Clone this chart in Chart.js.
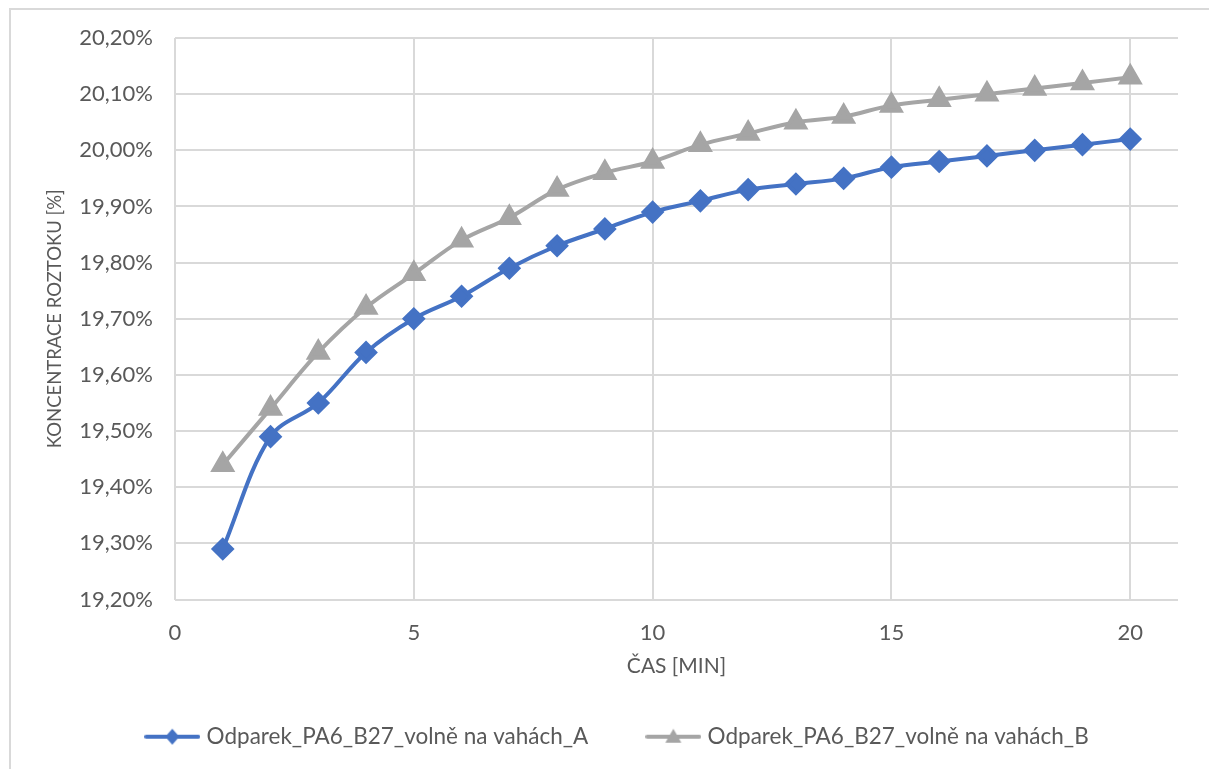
<!DOCTYPE html>
<html>
<head>
<meta charset="utf-8">
<script src="https://cdn.jsdelivr.net/npm/chart.js@4"></script>
<style>
  html, body { margin: 0; padding: 0; background: #fff; }
  #wrap { width: 1209px; height: 769px; }
</style>
</head>
<body>
<div id="wrap"><canvas id="chart" width="1209" height="769"></canvas></div>
<script>
// -------- Datos --------
const minutes = [1, 2, 3, 4, 5, 6, 7, 8, 9, 10, 11, 12, 13, 14, 15, 16, 17, 18, 19, 20];
const seriesA = [19.29, 19.49, 19.55, 19.64, 19.70, 19.74, 19.79, 19.83, 19.86, 19.89,
                 19.91, 19.93, 19.94, 19.95, 19.97, 19.98, 19.99, 20.00, 20.01, 20.02];
const seriesB = [19.44, 19.54, 19.64, 19.72, 19.78, 19.84, 19.88, 19.93, 19.96, 19.98,
                 20.01, 20.03, 20.05, 20.06, 20.08, 20.09, 20.10, 20.11, 20.12, 20.13];
const labelA = "Odparek_PA6_B27_volně na vahách_A";
const labelB = "Odparek_PA6_B27_volně na vahách_B";
const xTicks = [0, 5, 10, 15, 20];
const yTitle = "KONCENTRACE ROZTOKU [%]";
const xTitle = "ČAS [MIN]";

const BLUE = "#4472C4";
const GREY = "#A5A5A5";
const GRID = "#D9D9D9";
const TEXT = "#595959";
const FONT = "Lato, 'Open Sans', sans-serif";

// -------- Iconos de leyenda (línea + marcador) --------
function legendIcon(color, style) {
  const c = document.createElement("canvas");
  c.width = 56; c.height = 20;
  const g = c.getContext("2d");
  g.strokeStyle = color; g.lineWidth = 4; g.lineCap = "round";
  g.beginPath(); g.moveTo(2, 10); g.lineTo(54, 10); g.stroke();
  g.fillStyle = color;
  g.beginPath();
  if (style === "diamond") {
    g.moveTo(28, 2); g.lineTo(35, 10); g.lineTo(28, 18); g.lineTo(21, 10);
  } else {
    g.moveTo(28, 2); g.lineTo(36, 16); g.lineTo(20, 16);
  }
  g.closePath(); g.fill();
  return c;
}
const iconA = legendIcon(BLUE, "diamond");
const iconB = legendIcon(GREY, "triangle");

// -------- Marco --------
const framePlugin = {
  id: "frame",
  beforeDraw(chart) {
    const ctx = chart.ctx;
    ctx.save();
    ctx.fillStyle = "#fff";
    ctx.fillRect(0, 0, chart.width, chart.height);
    ctx.strokeStyle = GRID;
    ctx.lineWidth = 2;
    ctx.strokeRect(10, 9, chart.width + 10, chart.height + 10);
    ctx.restore();
  }
};

const fmtPct = v => v.toFixed(2).replace(".", ",") + "%";

new Chart(document.getElementById("chart"), {
  type: "line",
  data: {
    datasets: [
      {
        label: labelA,
        data: minutes.map((m, i) => ({ x: m, y: seriesA[i] })),
        borderColor: BLUE,
        backgroundColor: BLUE,
        borderWidth: 4,
        pointStyle: "rectRot",
        pointRadius: 9,
        pointHoverRadius: 9,
        tension: 0.35
      },
      {
        label: labelB,
        data: minutes.map((m, i) => ({ x: m, y: seriesB[i] })),
        borderColor: GREY,
        backgroundColor: GREY,
        borderWidth: 4,
        pointStyle: "triangle",
        pointRadius: 10.5,
        pointHoverRadius: 10.5,
        tension: 0.35
      }
    ]
  },
  options: {
    responsive: false,
    animation: false,
    layout: { padding: { left: 60, top: 38, right: 31, bottom: 11 } },
    scales: {
      x: {
        type: "linear",
        min: 0,
        max: 21,
        afterBuildTicks: s => { s.ticks = xTicks.map(v => ({ value: v })); },
        afterFit: s => { s.height = 64; },
        grid: { color: GRID, lineWidth: 2, drawTicks: false },
        border: { display: false },
        ticks: { color: TEXT, font: { family: FONT, size: 22 }, padding: 20 },
        title: { display: true, text: xTitle, color: TEXT, font: { family: FONT, size: 21 }, padding: { top: 0, bottom: -15 } }
      },
      y: {
        min: 19.2,
        max: 20.2,
        afterFit: s => { s.width = 115; },
        grid: { color: GRID, lineWidth: 2, drawTicks: false },
        border: { display: false },
        ticks: { stepSize: 0.1, color: TEXT, font: { family: FONT, size: 22 }, padding: 22, callback: fmtPct },
        title: { display: true, text: yTitle, color: TEXT, font: { family: FONT, size: 18.5 }, padding: { top: -16, bottom: 0 } }
      }
    },
    plugins: {
      legend: {
        position: "bottom",
        labels: {
          usePointStyle: true,
          pointStyleWidth: 46,
          padding: 62,
          color: TEXT,
          font: { family: FONT, size: 22.5 },
          generateLabels: chart => chart.data.datasets.map((d, i) => ({
            text: d.label,
            pointStyle: i === 0 ? iconA : iconB,
            fontColor: TEXT,
            datasetIndex: i,
            lineWidth: 0
          }))
        }
      },
      tooltip: { enabled: false }
    }
  },
  plugins: [framePlugin]
});
</script>
</body>
</html>
